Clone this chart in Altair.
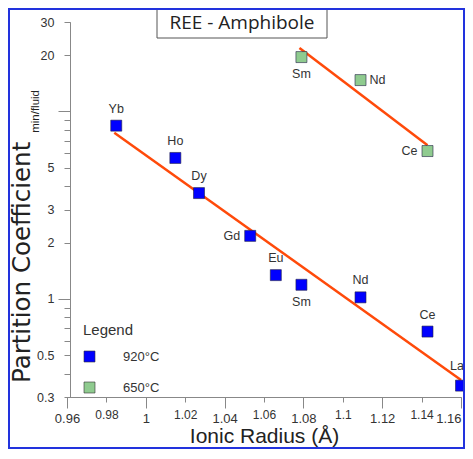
import altair as alt
import pandas as pd

# ---- data ----
blue_elements = ["Yb", "Ho", "Dy", "Gd", "Eu", "Sm", "Nd", "Ce", "La"]
blue_radius = [0.985, 1.015, 1.027, 1.053, 1.066, 1.079, 1.109, 1.143, 1.160]
blue_kd = [8.4, 5.65, 3.67, 2.17, 1.34, 1.19, 1.02, 0.67, 0.345]
blue_label_pos = ["above", "above", "above", "left", "above", "below", "above", "above", "aboveleft"]

green_elements = ["Sm", "Nd", "Ce"]
green_radius = [1.079, 1.109, 1.143]
green_kd = [19.5, 14.7, 6.15]
green_label_pos = ["below", "right", "left"]

series_names = ["920°C", "650°C"]

blue_fit_radius = [0.984, 1.160]
blue_fit_kd = [7.7, 0.37]
green_fit_radius = [1.078, 1.143]
green_fit_kd = [21.8, 6.6]

x_ticks_major = [0.96, 1.0, 1.04, 1.08, 1.12, 1.16]
x_ticks_minor = [0.98, 1.02, 1.06, 1.10, 1.14]
y_ticks_decade = [1, 10]
y_ticks_other = [0.3, 0.4, 0.5, 0.6, 0.7, 0.8, 0.9, 2, 3, 4, 5, 6, 7, 8, 9, 20, 30]
y_labelled = [30, 20, 5, 3, 2, 1, 0.5, 0.3]

chart_title = "REE - Amphibole"
x_title = "Ionic Radius (Å)"
y_title_main = "Partition Coefficient"
y_title_sub = "min/fluid"

FONT = "Liberation Sans"

points = pd.concat([
    pd.DataFrame({"element": blue_elements, "radius": blue_radius, "kd": blue_kd,
                  "series": series_names[0], "pos": blue_label_pos}),
    pd.DataFrame({"element": green_elements, "radius": green_radius, "kd": green_kd,
                  "series": series_names[1], "pos": green_label_pos}),
], ignore_index=True)

fits = pd.concat([
    pd.DataFrame({"radius": blue_fit_radius, "kd": blue_fit_kd, "grp": "blue"}),
    pd.DataFrame({"radius": green_fit_radius, "kd": green_fit_kd, "grp": "green"}),
], ignore_index=True)

W, H = 394, 375
SVG_W, SVG_H = 457, 441
PAD_L, PAD_T = 59, 14

xscale = alt.Scale(domain=[0.96, 1.16], nice=False, zero=False)
yscale = alt.Scale(type="log", domain=[0.3, 30], nice=False)

ylab_list = "[" + ",".join(str(v) for v in y_labelled) + "]"
y_label_expr = "indexof(" + ylab_list + ", datum.value) >= 0 ? format(datum.value, '~g') : ''"

common_axis = dict(
    grid=False,
    domainColor="#888888",
    tickColor="#888888",
    tickWidth=1,
    labelFont=FONT,
    labelColor="#333333",
    labelOverlap=False,
    labelFlush=False,
)

x_axis_major = alt.Axis(
    orient="bottom",
    values=x_ticks_major,
    labelExpr="format(datum.value, '~g')",
    tickSize=11,
    labelPadding=4,
    labelFontSize=13,
    labelAlign={"condition": {"test": "datum.value > 1.155", "value": "right"}, "value": "center"},
    title=x_title,
    titleFont=FONT,
    titleFontSize=21,
    titleFontWeight="normal",
    titleColor="#222222",
    titlePadding=0,
    **common_axis,
)
x_axis_minor = alt.Axis(
    orient="bottom",
    values=x_ticks_minor,
    labelExpr="format(datum.value, '~g')",
    tickSize=5,
    labelPadding=7,
    labelFontSize=12,
    title=None,
    **common_axis,
)
y_axis_decade = alt.Axis(
    orient="left",
    values=y_ticks_decade,
    labelExpr=y_label_expr,
    offset=-3,
    tickSize=12,
    labelPadding=4,
    labelFontSize=12.5,
    title=None,
    **common_axis,
)
y_axis_other = alt.Axis(
    orient="left",
    values=y_ticks_other,
    labelExpr=y_label_expr,
    offset=-3,
    tickSize=6,
    labelPadding=10,
    labelFontSize=12.5,
    title=None,
    **common_axis,
)

X0 = alt.X("radius:Q", scale=xscale, axis=None)
Y0 = alt.Y("kd:Q", scale=yscale, axis=None)

lines = alt.Chart(fits).mark_line(color="#ff4a0a", strokeWidth=2.5).encode(
    x=alt.X("radius:Q", scale=xscale, axis=x_axis_major),
    y=alt.Y("kd:Q", scale=yscale, axis=y_axis_decade),
    detail="grp:N",
)

minor_axes = alt.Chart(fits).mark_line(opacity=0).encode(
    x=alt.X("radius:Q", scale=xscale, axis=x_axis_minor),
    y=alt.Y("kd:Q", scale=yscale, axis=y_axis_other),
    detail="grp:N",
)

pts = alt.Chart(points).mark_point(
    shape="square", filled=True, size=121, opacity=1, stroke="#222244", strokeWidth=0.6
).encode(
    x=X0,
    y=Y0,
    color=alt.Color(
        "series:N",
        scale=alt.Scale(domain=series_names, range=["#0000ff", "#8fcb8f"]),
        legend=alt.Legend(
            title="Legend",
            orient="none",
            legendX=16,
            legendY=301,
            padding=0,
            symbolType="square",
            symbolSize=121,
            symbolStrokeColor="#333333",
            symbolStrokeWidth=0.6,
            labelOffset=27,
            rowPadding=16,
            titlePadding=12,
            labelFont=FONT,
            labelFontSize=13,
            labelColor="#333333",
            titleFont=FONT,
            titleFontSize=15,
            titleFontWeight="normal",
            titleColor="#333333",
        ),
    ),
)

def label_layer(pos, **kw):
    return alt.Chart(points).transform_filter(alt.datum.pos == pos).mark_text(
        font=FONT, fontSize=12.5, color="#333333", baseline="middle", **kw
    ).encode(x=X0, y=Y0, text="element:N")

labels = [
    label_layer("above", dy=-17, align="center"),
    label_layer("aboveleft", dy=-20, dx=3, align="right"),
    label_layer("below", dy=17, align="center"),
    label_layer("left", dx=-10, align="right"),
    label_layer("right", dx=9, align="left"),
]

title_df = pd.DataFrame({"t": [chart_title]})
title_box = alt.Chart(title_df).mark_rect(
    fill="white", stroke="#555555", strokeWidth=1
).encode(x=alt.value(90), x2=alt.value(260), y=alt.value(-13), y2=alt.value(16))
title_text = alt.Chart(title_df).mark_text(
    font="Open Sans", fontSize=19, color="#222222", align="center", baseline="middle"
).encode(x=alt.value(175), y=alt.value(1), text="t:N")

yt_df = pd.DataFrame({"main": [y_title_main], "sub": [y_title_sub]})
y_main = alt.Chart(yt_df).mark_text(
    font="DejaVu Sans", fontSize=24.5, color="#222222", angle=270, align="left", baseline="alphabetic"
).encode(x=alt.value(-37), y=alt.value(361), text="main:N")
y_sub = alt.Chart(yt_df).mark_text(
    font=FONT, fontSize=11.5, color="#222222", angle=270, align="right", baseline="alphabetic"
).encode(x=alt.value(-28), y=alt.value(68), text="sub:N")

frame = alt.Chart(title_df).mark_rect(
    filled=False, stroke="#2233dd", strokeWidth=2
).encode(
    x=alt.value(1 - PAD_L), x2=alt.value(SVG_W - 1 - PAD_L),
    y=alt.value(1 - PAD_T), y2=alt.value(SVG_H - 1 - PAD_T),
)

chart = alt.layer(
    lines, minor_axes, pts, *labels, title_box, title_text, y_main, y_sub, frame
).resolve_axis(
    x="independent", y="independent"
).properties(
    width=W,
    height=H,
    autosize=alt.AutoSizeParams(type="none"),
    padding={"left": PAD_L, "top": PAD_T, "right": SVG_W - PAD_L - W, "bottom": SVG_H - PAD_T - H},
).configure_view(strokeWidth=0)

chart.save("out.html", embed_options={"renderer": "svg", "actions": False})
